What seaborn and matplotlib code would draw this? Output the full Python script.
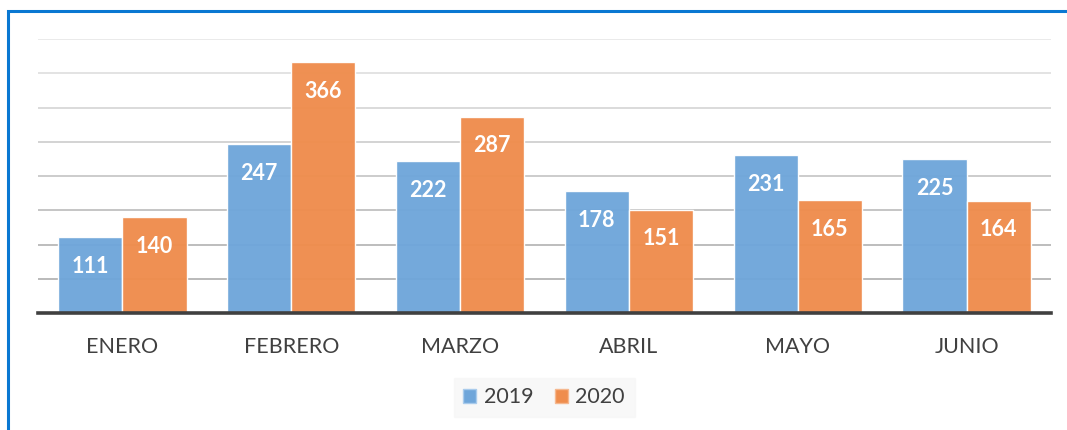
import pandas as pd
import seaborn as sns
import matplotlib.pyplot as plt
from matplotlib.patches import Rectangle, Patch

# Datos
meses = ["ENERO", "FEBRERO", "MARZO", "ABRIL", "MAYO", "JUNIO"]
valores_2019 = [111, 247, 222, 178, 231, 225]
valores_2020 = [140, 366, 287, 151, 165, 164]
anios = ["2019", "2020"]

df = pd.DataFrame({
    "mes": meses * 2,
    "anio": [anios[0]] * 6 + [anios[1]] * 6,
    "valor": valores_2019 + valores_2020,
})

sns.set_style("white")
plt.rcParams['font.family'] = ['Lato', 'DejaVu Sans']

colores = ["#6FA6DA", "#EF8D4D"]

fig = plt.figure(figsize=(10.67, 4.3), dpi=100)
ax = fig.add_axes([0.0356, 0.272, 0.9494, 0.637])

sns.barplot(data=df, x="mes", y="valor", hue="anio", palette=colores,
            width=0.76, edgecolor="white", linewidth=1, alpha=0.97,
            saturation=1, legend=False, ax=ax)

ax.set_ylim(0, 400)
ax.set_xlim(-0.5, 5.5)

# lineas de la cuadricula (mas claras arriba)
grid_cols = ["#b4b4b4", "#b8b8b8", "#c0c0c0", "#c8c8c8", "#d0d0d0", "#d8d8d8", "#e0e0e0", "#e8e8e8"]
for i, yv in enumerate(range(50, 401, 50)):
    ax.axhline(yv, color=grid_cols[i], lw=1.3, zorder=0.5)

# etiquetas dentro de las barras
for c in ax.containers:
    for p in c:
        ax.annotate(f"{p.get_height():.0f}", (p.get_x() + p.get_width() / 2, p.get_height()),
                    xytext=(0, -21), textcoords="offset points", ha="center", va="center",
                    color="white", fontsize=15.5, fontweight="bold")

ax.set_xlabel("")
ax.set_ylabel("")
ax.set_yticks([])
ax.tick_params(axis="x", length=0, labelsize=15.5, labelcolor="#404040", pad=17)
for s in ["left", "right", "top"]:
    ax.spines[s].set_visible(False)
ax.spines["bottom"].set_color("#404040")
ax.spines["bottom"].set_linewidth(2.6)
ax.spines["bottom"].set_zorder(5)

# leyenda
handles = [Patch(facecolor=colores[0], edgecolor="#a9cbec"),
           Patch(facecolor=colores[1], edgecolor="#f5b88f")]
leg = fig.legend(handles, anios, loc="center", bbox_to_anchor=(0.51, 0.076),
                 ncol=2, frameon=True, fontsize=15.5, handlelength=0.6,
                 handleheight=0.6, handletextpad=0.35, columnspacing=1.0,
                 borderpad=0.45, fancybox=False, labelcolor="#404040")
leg.get_frame().set_facecolor("#f7f7f7")
leg.get_frame().set_edgecolor("#f7f7f7")

# borde azul
fig.patches.append(Rectangle((0.0075, -0.5), 1.5, 0.5 + 0.974, transform=fig.transFigure,
                             fill=False, edgecolor="#0A78D2", linewidth=2.2))

fig.savefig("out.png", dpi=100)
